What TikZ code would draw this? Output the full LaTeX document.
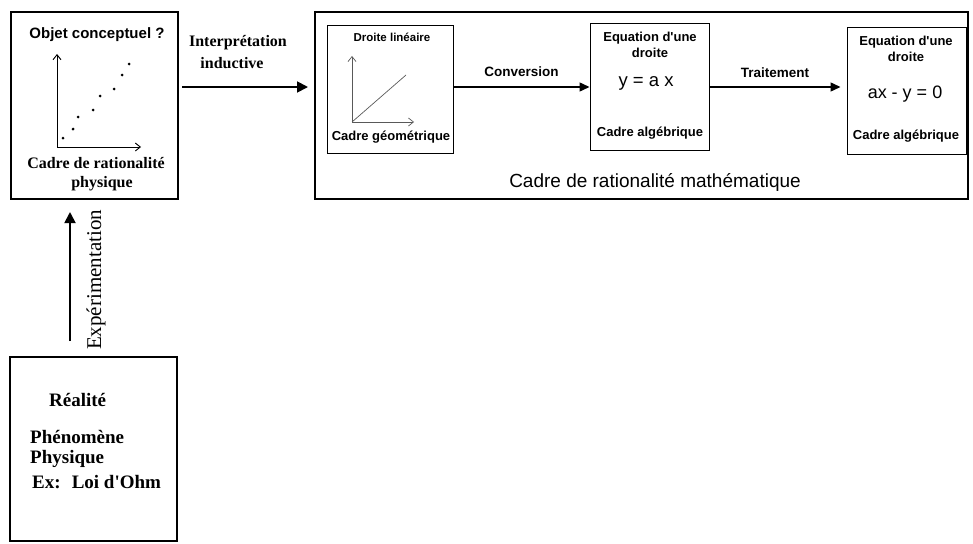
\documentclass[tikz,border=0pt]{standalone}
\usepackage{fontspec}
\setmainfont{Liberation Serif}
\setsansfont{Liberation Sans}
\usepackage{tikz}
\usetikzlibrary{positioning}
\usetikzlibrary{arrows.meta}

\tikzset{
  frame/.style={draw,line width=1.4pt},
  small frame/.style={draw,line width=1pt},
  big arrow/.style={line width=1.8pt,-{Triangle[length=11pt,width=11pt]}},
  axis/.style={line width=0.9pt,-{Straight Barb[length=5pt,width=8pt]}},
  serif label/.style={font=\fontsize{16}{18}\selectfont\bfseries,align=center,inner sep=0pt},
  real label/.style={font=\fontsize{19}{21}\selectfont\bfseries,inner sep=0pt,anchor=west},
  sans label/.style={font=\fontsize{13}{14}\selectfont\sffamily\bfseries,align=center,inner sep=0pt},
}
\newcommand{\apos}{\textquotesingle}

\begin{document}
\begin{tikzpicture}[x=1pt,y=-1pt]
        \useasboundingbox (0,0) rectangle (973,543);

        % physical frame
        \draw[frame] (11,12) rectangle (178,199);
        \node[font=\fontsize{15}{16}\selectfont\sffamily\bfseries,inner sep=0pt] (objet) at (97,35) {Objet conceptuel ?};
        \coordinate (o) at (57,147);
        \draw[axis] (o) -- (57,54);
        \draw[axis] (o) -- (141,147);
        \foreach \x/\y in {63/138,73/129,78/117,93/110,100/96,114/89,122/75,129/64}
            \fill (\x,\y) circle (1.5);
        \node[serif label] (cadrephys) at (96,163) {Cadre de rationalité};
        \node[serif label] (physique) at (102,184) {physique};

        % reality
        \draw[frame] (10,357) -- (177,357) -- (177,541) -- (10,541) -- cycle;
        \node[real label] (realite) at (49,400) {Réalité};
        \node[real label] (phen) at (30,437) {Phénomène};
        \node[real label] (phys) at (30,459) {Physique};
        \node[real label] (ohm) at (32,482) {Ex:~ Loi d\apos Ohm};

        \coordinate (exp0) at (70,341);
        \coordinate (exp1) at (70,212);
        \draw[big arrow] (exp0) -- (exp1);
        \node[font=\fontsize{21}{23}\selectfont,inner sep=0pt,rotate=90] (exper) at (96,280) {Expérimentation};

        % interpretation
        \coordinate (int0) at (182,87);
        \coordinate (int1) at (308,87);
        \draw[big arrow] (int0) -- (int1);
        \node[serif label] (interp) at (238,43) {Interprétation};
        \node[serif label] (induct) at (232,63) {inductive};

        % mathematical frame
        \draw[frame] (315,12) rectangle (968,199);
        \draw[line width=2.6pt] (315,11) -- (315,200);
        \node[font=\fontsize{19}{21}\selectfont\sffamily,inner sep=0pt] (cadremath) at (655,182) {Cadre de rationalité mathématique};

        \node[small frame,minimum width=126,minimum height=127,inner sep=0pt] (geo) at (390,89.5) {};
        \node[sans label,font=\fontsize{11.5}{12}\selectfont\sffamily\bfseries] at (392,37) {Droite linéaire};
        \node[sans label] at (391,137) {Cadre géométrique};
        \coordinate (g) at (352,122);
        \draw[axis,line width=0.7pt,gray!70!black] (g) -- (352,56);
        \draw[axis,line width=0.7pt,gray!70!black] (g) -- (414,122);
        \draw[line width=0.7pt,gray!70!black] (g) -- (406,75);

        \node[small frame,minimum width=119,minimum height=126,inner sep=0pt] (alg1) at (649.5,87) {};
        \node[sans label] at (650,38) {Equation d\apos une};
        \node[sans label] at (650,53) {droite};
        \node[font=\fontsize{18.5}{20}\selectfont\sffamily,inner sep=0pt] at (646,83) {y = a x};
        \node[sans label] at (650,133) {Cadre algébrique};

        \node[small frame,minimum width=119,minimum height=126,inner sep=0pt] (alg2) at (906.5,91) {};
        \node[sans label] at (906,42) {Equation d\apos une};
        \node[sans label] at (906,57) {droite};
        \node[font=\fontsize{18}{20}\selectfont\sffamily,inner sep=0pt] at (905,94) {ax - y = 0};
        \node[sans label] at (906,136) {Cadre algébrique};

        \draw[line width=1.4pt,-{Triangle[length=10pt,width=9pt]}] (geo.east |- 0,87) -- node[above=10pt,sans label,font=\fontsize{13.5}{14}\selectfont\sffamily\bfseries] (conv) {Conversion} (alg1.west |- 0,87);
        \draw[line width=1.4pt,-{Triangle[length=10pt,width=9pt]}] (alg1.east |- 0,87) -- node[above=9pt,sans label,font=\fontsize{13.5}{14}\selectfont\sffamily\bfseries] (trait) {Traitement} ([xshift=-6]alg2.west |- 0,87);
\end{tikzpicture}
\end{document}
